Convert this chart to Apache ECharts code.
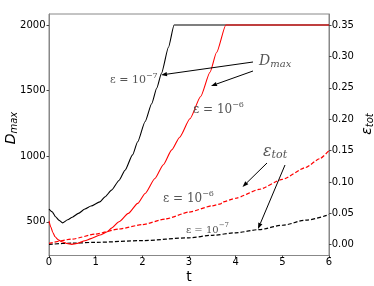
<!DOCTYPE html>
<html><head><meta charset="utf-8">
<script src="https://cdn.jsdelivr.net/npm/echarts@6/dist/echarts.min.js"></script>
<style>html,body{margin:0;padding:0;background:#fff}#c{width:374px;height:286px}</style>
</head><body><div id="c"></div>
<script>
// ---- data ----
const tBlackSolid = [0, 0.07, 0.14, 0.21, 0.29, 0.4, 0.5, 0.63, 0.77, 0.9, 1.09, 1.2, 1.34, 1.5, 1.63, 1.79, 1.9, 2.06, 2.2, 2.31, 2.41, 2.56, 2.68, 6];
const dBlackSolid = [597, 576, 538, 513, 492, 515, 535, 564, 597, 620, 652, 690, 741, 815, 893, 1010, 1110, 1265, 1400, 1520, 1632, 1830, 2000, 2000];
const tRedSolid = [0, 0.04, 0.08, 0.13, 0.2, 0.27, 0.38, 0.49, 0.6, 0.77, 0.9, 1.09, 1.25, 1.34, 1.5, 1.7, 1.9, 2.06, 2.27, 2.45, 2.63, 2.8, 3.02, 3.25, 3.45, 3.59, 3.79, 6];
const dRedSolid = [505, 460, 420, 386, 362, 348, 335, 328, 335, 355, 372, 399, 424, 452, 500, 564, 640, 716, 830, 935, 1048, 1145, 1285, 1455, 1640, 1790, 2000, 2000];
const tRedDashed = [0, 0.5, 1.0, 1.5, 2.0, 2.5, 3.0, 3.5, 3.68, 3.72, 4.0, 4.5, 5.0, 5.5, 5.8, 6];
const eRedDashed = [0.002, 0.009, 0.017, 0.025, 0.032, 0.041, 0.052, 0.062, 0.065, 0.068, 0.074, 0.088, 0.104, 0.123, 0.137, 0.150];
const tBlackDashed = [0, 0.5, 1, 2, 3, 3.5, 4, 4.5, 5, 5.5, 6];
const eBlackDashed = [0.0005, 0.0025, 0.0038, 0.0065, 0.011, 0.015, 0.019, 0.024, 0.031, 0.039, 0.048];
const xTicks = [0, 1, 2, 3, 4, 5, 6];
const leftTicks = [500, 1000, 1500, 2000];
const rightTicks = [0.00, 0.05, 0.10, 0.15, 0.20, 0.25, 0.30, 0.35];

const zip = (a, b) => a.map((v, i) => [v, b[i]]);
const chart = echarts.init(document.getElementById('c'), null, {renderer: 'canvas'});
const tickFont = {fontFamily: 'DejaVu Sans', fontSize: 10, color: '#000'};
const spine = {show: true, onZero: false, lineStyle: {color: '#888', width: 1}};

chart.setOption({
  animation: false,
  grid: {left: 49, top: 14, width: 280, height: 241.5, show: true, borderColor: '#888', borderWidth: 1},
  xAxis: {type: 'value', min: 0, max: 6, interval: 1,
    axisLine: spine, splitLine: {show: false},
    axisTick: {show: true, length: 2.5, lineStyle: {color: '#444'}},
    axisLabel: Object.assign({margin: 2, customValues: xTicks, formatter: v => String(v)}, tickFont)},
  yAxis: [
    {type: 'value', min: 243, max: 2084, position: 'left',
      axisLine: spine, splitLine: {show: false},
      axisTick: {show: true, length: 2.5, customValues: leftTicks, lineStyle: {color: '#444'}},
      axisLabel: Object.assign({margin: 3.5, customValues: leftTicks, formatter: v => String(v)}, tickFont)},
    {type: 'value', min: -0.0172, max: 0.3675, position: 'right',
      axisLine: spine, splitLine: {show: false},
      axisTick: {show: true, length: 2.5, customValues: rightTicks, lineStyle: {color: '#444'}},
      axisLabel: Object.assign({margin: 2.7, customValues: rightTicks, formatter: v => v.toFixed(2)}, tickFont)}
  ],
  series: [
    {type: 'line', yAxisIndex: 1, data: zip(tBlackDashed, eBlackDashed), showSymbol: false, smooth: 0.3, smoothMonotone: 'x',
      lineStyle: {color: '#000', width: 1.2, type: [4, 2]}},
    {type: 'line', yAxisIndex: 1, data: zip(tRedDashed, eRedDashed), showSymbol: false, smooth: 0.2, smoothMonotone: 'x',
      lineStyle: {color: '#ff0000', width: 1.2, type: [4, 2]}},
    {type: 'line', yAxisIndex: 0, data: zip(tBlackSolid, dBlackSolid), showSymbol: false, smooth: 0.2, smoothMonotone: 'x',
      lineStyle: {color: '#000', width: 1.1}},
    {type: 'line', yAxisIndex: 0, data: zip(tRedSolid, dRedSolid), showSymbol: false, smooth: 0.2, smoothMonotone: 'x',
      lineStyle: {color: '#ff0000', width: 1.1}}
  ]
});

// ---- annotations ----
function epsLabel(x, y, exp, size, color) {
  return {type: 'text', x: x, y: y, z: 10, style: {
    text: '{b|ε = 10}{s|−' + exp + '}', verticalAlign: 'middle', align: 'left',
    rich: {
      b: {fontFamily: 'DejaVu Serif', fontSize: size, fill: color, lineHeight: size + 6, fontStyle: 'normal'},
      s: {fontFamily: 'DejaVu Serif', fontSize: Math.round(size * 0.7), fill: color, lineHeight: Math.round(size * 0.7), verticalAlign: 'top'}
    }}};
}
function arrow(x1, y1, x2, y2) {
  const ang = Math.atan2(y2 - y1, x2 - x1), L = 6, W = 2.2;
  const bx = x2 - L * Math.cos(ang), by = y2 - L * Math.sin(ang);
  const px = -Math.sin(ang) * W, py = Math.cos(ang) * W;
  return [
    {type: 'line', z: 10, shape: {x1: x1, y1: y1, x2: bx, y2: by}, style: {stroke: '#000', lineWidth: 1}},
    {type: 'polygon', z: 10, shape: {points: [[x2, y2], [bx + px, by + py], [bx - px, by - py]]}, style: {fill: '#000'}}
  ];
}
const g = [];
g.push(epsLabel(110, 80, '7', 11, '#555'));
g.push(epsLabel(193, 110, '6', 12, '#555'));
g.push(epsLabel(163, 199, '6', 12, '#555'));
g.push(epsLabel(186, 230, '7', 10, '#555'));
g.push({type: 'text', x: 259, y: 61, z: 10, style: {text: '{b|D}{s|max}', verticalAlign: 'middle',
  rich: {b: {fontFamily: 'DejaVu Serif', fontStyle: 'italic', fontSize: 14, fill: '#555', lineHeight: 16},
         s: {fontFamily: 'DejaVu Serif', fontStyle: 'italic', fontSize: 10, fill: '#555', lineHeight: 10, verticalAlign: 'bottom'}}}});
g.push({type: 'text', x: 263, y: 152, z: 10, style: {text: '{b|ε}{s|tot}', verticalAlign: 'middle',
  rich: {b: {fontFamily: 'DejaVu Serif', fontStyle: 'italic', fontSize: 16, fill: '#555', lineHeight: 18},
         s: {fontFamily: 'DejaVu Serif', fontStyle: 'italic', fontSize: 11, fill: '#555', lineHeight: 11, verticalAlign: 'bottom'}}}});
g.push(...arrow(253, 62, 161, 75));
g.push(...arrow(253, 71, 211, 86));
g.push(...arrow(267, 163, 242.5, 187));
g.push(...arrow(285, 165, 258, 229));
// axis titles
g.push({type: 'text', x: 11, y: 128, rotation: Math.PI / 2, z: 10, style: {text: '{b|D}{s|max}', align: 'center', verticalAlign: 'middle',
  rich: {b: {fontFamily: 'DejaVu Sans', fontStyle: 'italic', fontSize: 14, fill: '#000', lineHeight: 16},
         s: {fontFamily: 'DejaVu Sans', fontStyle: 'italic', fontSize: 10, fill: '#000', lineHeight: 10, verticalAlign: 'bottom'}}}});
g.push({type: 'text', x: 367, y: 124, rotation: Math.PI / 2, z: 10, style: {text: '{b|ε}{s|tot}', align: 'center', verticalAlign: 'middle',
  rich: {b: {fontFamily: 'DejaVu Sans', fontStyle: 'italic', fontSize: 14, fill: '#000', lineHeight: 16},
         s: {fontFamily: 'DejaVu Sans', fontStyle: 'italic', fontSize: 10, fill: '#000', lineHeight: 10, verticalAlign: 'bottom'}}}});
g.push({type: 'text', x: 189, y: 277, z: 10, style: {text: 't', align: 'center', verticalAlign: 'middle',
  fontFamily: 'DejaVu Sans', fontSize: 14, fill: '#000'}});
chart.setOption({graphic: g});
</script></body></html>
